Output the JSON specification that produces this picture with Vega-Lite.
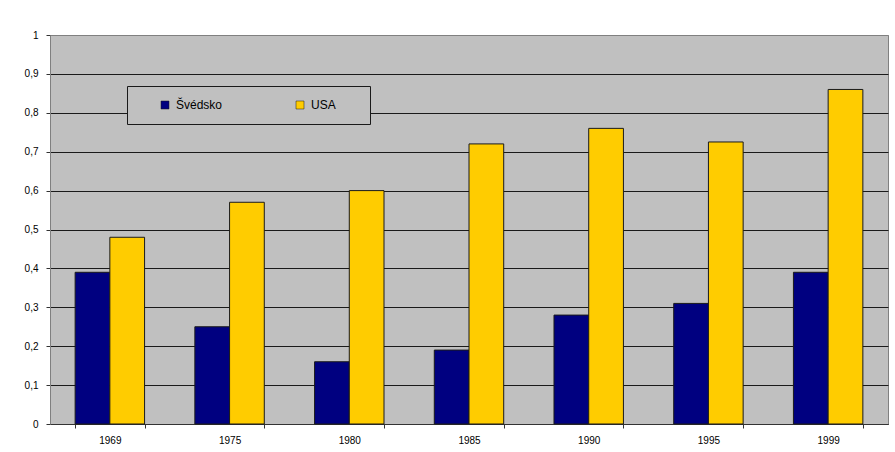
{
  "$schema": "https://vega.github.io/schema/vega-lite/v6.json",
  "autosize": "none",
  "width": 838,
  "height": 389,
  "padding": {"left": 50, "top": 35, "right": 7, "bottom": 28},
  "background": "white",
  "config": {
    "font": "Liberation Sans",
    "view": {"fill": "#C0C0C0", "stroke": "#808080", "strokeWidth": 1}
  },
  "data": {
    "values": [
      {"rok": "1969", "zeme": "Švédsko", "podil": 0.39},
      {"rok": "1969", "zeme": "USA", "podil": 0.48},
      {"rok": "1975", "zeme": "Švédsko", "podil": 0.25},
      {"rok": "1975", "zeme": "USA", "podil": 0.57},
      {"rok": "1980", "zeme": "Švédsko", "podil": 0.16},
      {"rok": "1980", "zeme": "USA", "podil": 0.6},
      {"rok": "1985", "zeme": "Švédsko", "podil": 0.19},
      {"rok": "1985", "zeme": "USA", "podil": 0.72},
      {"rok": "1990", "zeme": "Švédsko", "podil": 0.28},
      {"rok": "1990", "zeme": "USA", "podil": 0.76},
      {"rok": "1995", "zeme": "Švédsko", "podil": 0.31},
      {"rok": "1995", "zeme": "USA", "podil": 0.725},
      {"rok": "1999", "zeme": "Švédsko", "podil": 0.39},
      {"rok": "1999", "zeme": "USA", "podil": 0.86}
    ]
  },
  "mark": {"type": "bar", "stroke": "#1a1a1a", "strokeWidth": 1},
  "encoding": {
    "x": {
      "field": "rok",
      "type": "nominal",
      "scale": {"paddingInner": 0.42, "paddingOuter": 0.21},
      "axis": {
        "title": null,
        "labelAngle": 0,
        "labelFontSize": 10,
        "labelColor": "black",
        "labelPadding": 7,
        "tickBand": "extent",
        "tickSize": 4,
        "tickColor": "#333333",
        "domainColor": "#333333",
        "grid": false
      }
    },
    "xOffset": {"field": "zeme", "type": "nominal", "sort": ["Švédsko", "USA"]},
    "y": {
      "field": "podil",
      "type": "quantitative",
      "scale": {"domain": [0, 1], "nice": false},
      "axis": {
        "title": null,
        "values": [0, 0.1, 0.2, 0.3, 0.4, 0.5, 0.6, 0.7, 0.8, 0.9, 1],
        "labelExpr": "replace(format(datum.value, '~g'), '.', ',')",
        "labelFontSize": 10,
        "labelColor": "black",
        "labelPadding": 8,
        "tickSize": 4,
        "tickColor": "#333333",
        "domainColor": "#808080",
        "grid": true,
        "gridColor": {"condition": {"test": "datum.value == 1", "value": "#808080"}, "value": "#1a1a1a"},
        "gridWidth": 1,
        "gridOpacity": 1
      }
    },
    "color": {
      "field": "zeme",
      "type": "nominal",
      "scale": {"domain": ["Švédsko", "USA"], "range": ["#000080", "#FFCC00"]},
      "legend": {
        "orient": "none",
        "legendX": 77,
        "legendY": 51,
        "direction": "horizontal",
        "columns": 2,
        "columnPadding": 52,
        "padding": 13,
        "title": " ",
        "titleOrient": "right",
        "titlePadding": 21,
        "titleFontSize": 10,
        "strokeColor": "#1a1a1a",
        "fillColor": "#C0C0C0",
        "symbolType": "square",
        "symbolSize": 64,
        "symbolOffset": 19,
        "symbolStrokeColor": "#1a1a1a",
        "symbolStrokeWidth": 0.5,
        "symbolOpacity": 1,
        "labelFontSize": 12,
        "labelColor": "black",
        "labelOffset": 5
      }
    }
  }
}
